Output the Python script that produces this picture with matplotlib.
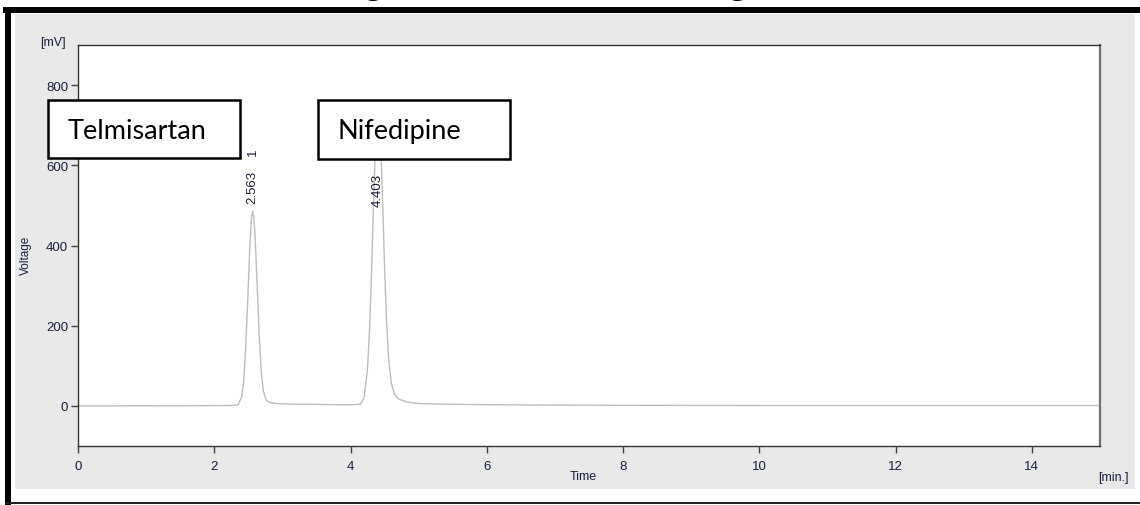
import numpy as np
import matplotlib.pyplot as plt
from matplotlib.patches import Rectangle

# Chromatogram trace (time in min, signal in mV)
tempo = [0.0, 0.5, 1.0, 1.5, 2.0, 2.2, 2.3, 2.35, 2.40, 2.43, 2.46, 2.49, 2.52,
         2.545, 2.563, 2.58, 2.60, 2.63, 2.66, 2.69, 2.72, 2.76, 2.80, 2.9, 3.0,
         3.2, 3.4, 3.6, 3.8, 4.0, 4.1, 4.15, 4.20, 4.25, 4.28, 4.31, 4.34, 4.37,
         4.39, 4.403, 4.42, 4.44, 4.47, 4.50, 4.53, 4.56, 4.60, 4.65, 4.70, 4.80,
         4.90, 5.0, 5.2, 5.5, 6.0, 7.0, 8.0, 9.0, 10.0, 11.0, 12.0, 13.0, 14.0, 15.0]
voltagem = [0.0, 0.0, 0.3, 0.5, 0.8, 1.0, 1.5, 3.5, 21, 59, 139, 258, 390,
            467, 485, 472, 420, 300, 175, 85, 38, 15, 9, 6, 5,
            4, 4, 3.5, 3, 3, 3.5, 5, 21, 94, 193, 343, 520, 672,
            729, 740, 725, 665, 515, 345, 205, 115, 55, 28, 18, 11,
            8, 6, 5, 4, 3, 2, 1.5, 1.2, 1.0, 1.0, 1.0, 1.0, 1.0, 1.0]

# Peaks: retention time, label height, label text
picos_tempo = [2.563, 4.403]
picos_rotulo = ['2.563', '4.403']
picos_altura = [548, 541]

# Compound names in the boxes
compostos = ['Telmisartan', 'Nifedipine']

x_ticks = [0, 2, 4, 6, 8, 10, 12, 14]
y_ticks = [0, 200, 400, 600, 800]

W, H = 1140, 506
fig = plt.figure(figsize=(W / 100, H / 100), dpi=100)
fig.patch.set_facecolor('white')


def fx(px):
    return px / W


def fy(py):
    return 1 - py / H


# background axes for the window and the document frame
fundo = fig.add_axes([0, 0, 1, 1], zorder=0)
fundo.set_xlim(0, W)
fundo.set_ylim(H, 0)
fundo.axis('off')
fundo.add_patch(Rectangle((15, 15), 1120, 475, facecolor='#e9e9e9', edgecolor='none'))
fundo.add_patch(Rectangle((3, 8), W, 6, facecolor='black', edgecolor='none'))
fundo.add_patch(Rectangle((5, 8), 6, H, facecolor='black', edgecolor='none'))
fundo.add_patch(Rectangle((5, 503), W, 2, facecolor='#222222', edgecolor='none'))

# cut-off caption above the frame (only its lowest part is on the page)
fundo.text(570, -6, 'Figure 3: Selected Chromatogram', ha='center', va='baseline',
           fontsize=23, fontweight='bold', family='Liberation Serif')

fundo.text(53, 43, '[mV]', ha='center', va='center', fontsize=9,
           color='#1c1c3c', family='Liberation Sans')
fundo.text(26, 255, 'Voltage', ha='center', va='center', fontsize=8.5,
           rotation=90, color='#1c1c3c', family='Liberation Sans')
fundo.text(583, 477, 'Time', ha='center', va='center', fontsize=9,
           color='#1c1c3c', family='Liberation Sans')
fundo.text(1113, 478, '[min.]', ha='center', va='center', fontsize=9,
           color='#1c1c3c', family='Liberation Sans')

ax = fig.add_axes([fx(78), fy(447), fx(1100 - 78), (447 - 46) / H], zorder=1)
ax.set_facecolor('white')
ax.plot(tempo, voltagem, color='#bdbdbd', lw=1.0)

ax.set_xlim(0, 15)
ax.set_ylim(-100, 900)
ax.set_xticks(x_ticks)
ax.set_yticks(y_ticks)
cor_txt = '#1c1c3c'
ax.tick_params(axis='both', direction='out', length=5, width=1, color='#444444',
               labelsize=9.5, labelcolor=cor_txt, pad=2)
ax.tick_params(axis='x', pad=5)
for f in ax.get_xticklabels() + ax.get_yticklabels():
    f.set_family('Liberation Sans')
for lado in ['left', 'bottom', 'top']:
    ax.spines[lado].set_color('#333333')
    ax.spines[lado].set_linewidth(1)
ax.spines['right'].set_color('#707070')
ax.spines['right'].set_linewidth(1.6)

# retention time labels
for t, h, r in zip(picos_tempo, picos_altura, picos_rotulo):
    ax.text(t, h, r, rotation=90, ha='center', va='center', fontsize=9.5,
            color=cor_txt, family='Liberation Sans')
ax.text(picos_tempo[0], 636, '1', rotation=90, ha='center', va='center',
        fontsize=9.5, color=cor_txt, family='Liberation Sans')

# overlay axes for the compound name boxes
topo = fig.add_axes([0, 0, 1, 1], zorder=2)
topo.set_xlim(0, W)
topo.set_ylim(H, 0)
topo.axis('off')
caixas = [(48, 101, 240, 159), (318, 101, 510, 160)]
for (x0, y0, x1, y1), nome in zip(caixas, compostos):
    topo.add_patch(Rectangle((x0, y0), x1 - x0, y1 - y0, facecolor='white',
                             edgecolor='black', lw=1.8))
    topo.text(x0 + 20, (y0 + y1) / 2 + 1, nome, ha='left', va='center',
              fontsize=19.5, family='Lato', color='black')

fig.savefig('out.png', dpi=100)
